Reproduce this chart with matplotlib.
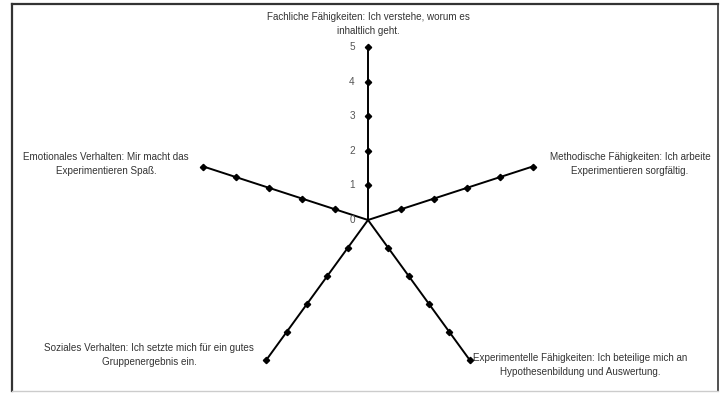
import numpy as np
import matplotlib
matplotlib.use("Agg")
import matplotlib.pyplot as plt
from matplotlib.lines import Line2D

plt.rcParams['font.family'] = ['Liberation Sans', 'DejaVu Sans']

categories = [
    "Fachliche Fähigkeiten: Ich verstehe, worum es\ninhaltlich geht.",
    "Methodische Fähigkeiten: Ich arbeite\nExperimentieren sorgfältig.",
    "Experimentelle Fähigkeiten: Ich beteilige mich an\nHypothesenbildung und Auswertung.",
    "Soziales Verhalten: Ich setzte mich für ein gutes\nGruppenergebnis ein.",
    "Emotionales Verhalten: Mir macht das\nExperimentieren Spaß.",
]
tick_values = [0, 1, 2, 3, 4, 5]
r_max = 5

W, H = 725, 393
fig = plt.figure(figsize=(W / 100, H / 100), dpi=100)

# polar axes centred on the spoke hub, radius = 5 units
cx, cy, rad = 368, 220, 173
ax = fig.add_axes([(cx - rad) / W, (H - cy - rad) / H, 2 * rad / W, 2 * rad / H],
                  projection='polar')
ax.set_theta_offset(np.pi / 2)
ax.set_theta_direction(-1)
ax.set_ylim(0, r_max)
ax.grid(False)
ax.set_xticks([])
ax.set_yticks([])
ax.spines['polar'].set_visible(False)
ax.patch.set_alpha(0)

n = len(categories)
angles = np.arange(n) * 2 * np.pi / n
for a in angles:
    ax.plot([a, a], [0, r_max], color='black', lw=1.4, solid_capstyle='butt',
            clip_on=False)
    ax.plot([a] * (len(tick_values) - 1), tick_values[1:], ls='none', marker='D',
            ms=3.2, color='black', clip_on=False)

# radial scale labels on the first spoke
for v in tick_values:
    ax.annotate(str(v), xy=(0, v), xytext=(-16, 0), textcoords='offset pixels',
                ha='center', va='center', fontsize=7.2, color='#555555')

# category labels around the spokes (pixel positions of their centres)
label_pos = [(368, 24), (630, 164), (580, 365), (149, 355), (106, 164)]
for text, (px, py) in zip(categories, label_pos):
    fig.text(px / W, 1 - py / H, text, ha='center', va='center',
             multialignment='center', fontsize=7.1, color='#333333',
             linespacing=1.4)

# outer chart frame
def fline(x0, y0, x1, y1, **kw):
    fig.add_artist(Line2D([x0 / W, x1 / W], [1 - y0 / H, 1 - y1 / H],
                          transform=fig.transFigure, **kw))

fline(12, 4, 718, 4, color='#333333', lw=1.6)
fline(12, 4, 12, 391, color='#333333', lw=1.6)
fline(718, 4, 718, 391, color='#333333', lw=1.2)
fline(12, 391, 718, 391, color='#cccccc', lw=1.0)

fig.savefig("out.png", dpi=100)
